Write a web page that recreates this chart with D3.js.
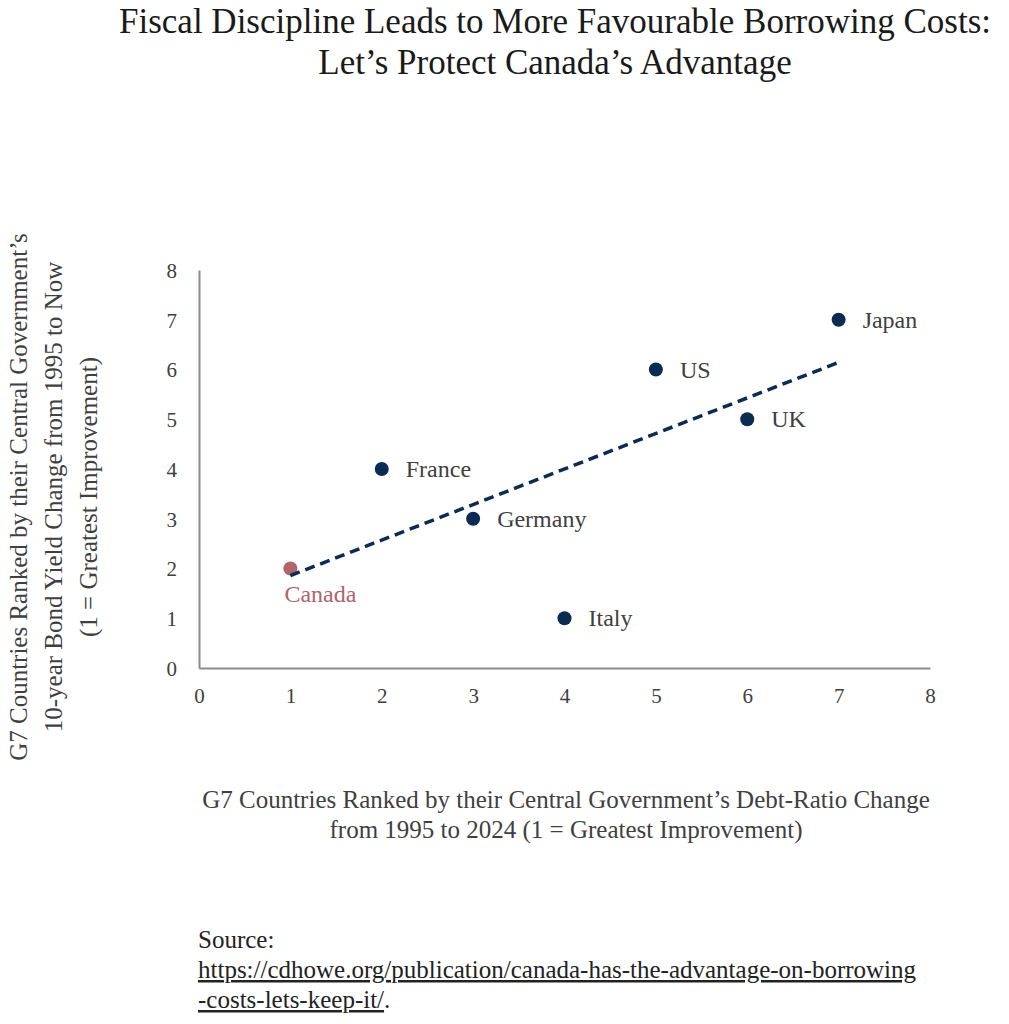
<!DOCTYPE html>
<html>
<head>
<meta charset="utf-8">
<script src="https://cdn.jsdelivr.net/npm/d3@7"></script>
<style>
  body { margin: 0; background: #fff; }
  text { font-family: "Liberation Serif", "DejaVu Serif", serif; }
</style>
</head>
<body>
<div id="chart"></div>
<script>
// Country names, in the order they are plotted
var countries = ['Canada', 'France', 'Germany', 'Italy', 'US', 'UK', 'Japan'];
// Rank by debt-ratio change (x)
var debtRank = [1, 2, 3, 4, 5, 6, 7];
// Rank by bond-yield change (y)
var yieldRank = [2, 4, 3, 1, 6, 5, 7];
// Axis tick values
var xTicks = [0, 1, 2, 3, 4, 5, 6, 7, 8];
var yTicks = [0, 1, 2, 3, 4, 5, 6, 7, 8];

var titleLines = ['Fiscal Discipline Leads to More Favourable Borrowing Costs:',
                  'Let\u2019s Protect Canada\u2019s Advantage'];
var yTitleLines = ['G7 Countries Ranked by their Central Government\u2019s',
                   '10-year Bond Yield Change from 1995 to Now',
                   '(1 = Greatest Improvement)'];
var xTitleLines = ['G7 Countries Ranked by their Central Government\u2019s Debt-Ratio Change',
                   'from 1995 to 2024 (1 = Greatest Improvement)'];

var W = 1009, H = 1024;
var margin = { top: 270, left: 199, right: 79, bottom: 356 };
var width = W - margin.left - margin.right,
    height = H - margin.top - margin.bottom;

var navy = '#0b2b52', rose = '#b0646c', grey = '#404040';

var svg = d3.select('#chart').append('svg')
    .attr('width', W).attr('height', H);

var data = countries.map(function(c, i) {
    return { name: c, x: debtRank[i], y: yieldRank[i] };
});

var xScale = d3.scaleLinear().domain([0, 8]).range([0, width]);
var yScale = d3.scaleLinear().domain([0, 8]).range([height, 0]);

var g = svg.append('g')
    .attr('transform', 'translate(' + margin.left + ',' + margin.top + ')');

// Axes: lines only, no tick marks
var xAxis = g.append('g')
    .attr('transform', 'translate(0,' + height + ')')
    .call(d3.axisBottom(xScale).tickValues(xTicks).tickSize(0).tickPadding(20));
var yAxis = g.append('g')
    .call(d3.axisLeft(yScale).tickValues(yTicks).tickSize(0).tickPadding(22));

[xAxis, yAxis].forEach(function(ax) {
    ax.select('.domain').attr('stroke', '#8c8c8c').attr('stroke-width', 2);
    ax.selectAll('text')
        .attr('font-family', '"Liberation Serif", serif')
        .attr('font-size', '21px')
        .attr('fill', grey);
});
yAxis.selectAll('text').attr('dy', '0.35em');

// Least squares trend line through the points
var mx = d3.mean(data, function(d) { return d.x; }),
    my = d3.mean(data, function(d) { return d.y; });
var slope = d3.sum(data, function(d) { return (d.x - mx) * (d.y - my); }) /
            d3.sum(data, function(d) { return (d.x - mx) * (d.x - mx); });
var x0 = d3.min(data, function(d) { return d.x; }),
    x1 = d3.max(data, function(d) { return d.x; });

// Points
var pts = g.selectAll('g.pt')
    .data(data)
    .enter()
    .append('g')
    .classed('pt', true);

pts.append('circle')
    .attr('cx', function(d) { return xScale(d.x); })
    .attr('cy', function(d) { return yScale(d.y); })
    .attr('r', 7)
    .attr('fill', function(d) { return d.name == 'Canada' ? rose : navy; });

pts.append('text')
    .text(function(d) { return d.name; })
    .attr('x', function(d) { return d.name == 'Canada' ? xScale(d.x) - 6 : xScale(d.x) + 24; })
    .attr('y', function(d) { return d.name == 'Canada' ? yScale(d.y) + 33 : yScale(d.y) + 8; })
    .attr('font-size', '24px')
    .attr('fill', function(d) { return d.name == 'Canada' ? rose : grey; });

// Trend line drawn over the Canada dot
g.append('line')
    .attr('x1', xScale(x0)).attr('y1', yScale(my + slope * (x0 - mx)))
    .attr('x2', xScale(x1)).attr('y2', yScale(my + slope * (x1 - mx)))
    .attr('stroke', navy)
    .attr('stroke-width', 3.5)
    .attr('stroke-dasharray', '10,6');

// Title
svg.append('text')
    .attr('text-anchor', 'middle')
    .attr('font-size', '35px')
    .attr('fill', '#1a1a1a')
    .selectAll('tspan')
    .data(titleLines)
    .enter()
    .append('tspan')
    .attr('x', 555)
    .attr('y', function(d, i) { return 33 + i * 41; })
    .text(function(d) { return d; });

// Y axis title
svg.append('text')
    .attr('transform', 'translate(0,497) rotate(-90)')
    .attr('text-anchor', 'middle')
    .attr('font-size', '25px')
    .attr('fill', grey)
    .selectAll('tspan')
    .data(yTitleLines)
    .enter()
    .append('tspan')
    .attr('x', 0)
    .attr('y', function(d, i) { return 27 + i * 35; })
    .text(function(d) { return d; });

// X axis title
svg.append('text')
    .attr('text-anchor', 'middle')
    .attr('font-size', '25px')
    .attr('fill', grey)
    .selectAll('tspan')
    .data(xTitleLines)
    .enter()
    .append('tspan')
    .attr('x', 566)
    .attr('y', function(d, i) { return 808 + i * 30; })
    .text(function(d) { return d; });

// Source
var src = svg.append('g').attr('fill', '#222').attr('font-size', '25px');
src.append('text').attr('x', 198).attr('y', 948).text('Source:');
src.append('text').attr('x', 198).attr('y', 978)
    .attr('text-decoration', 'underline')
    .text('https://cdhowe.org/publication/canada-has-the-advantage-on-borrowing');
var last = src.append('text').attr('x', 198).attr('y', 1008);
last.append('tspan').attr('text-decoration', 'underline').text('-costs-lets-keep-it/');
last.append('tspan').text('.');
</script>
</body>
</html>
